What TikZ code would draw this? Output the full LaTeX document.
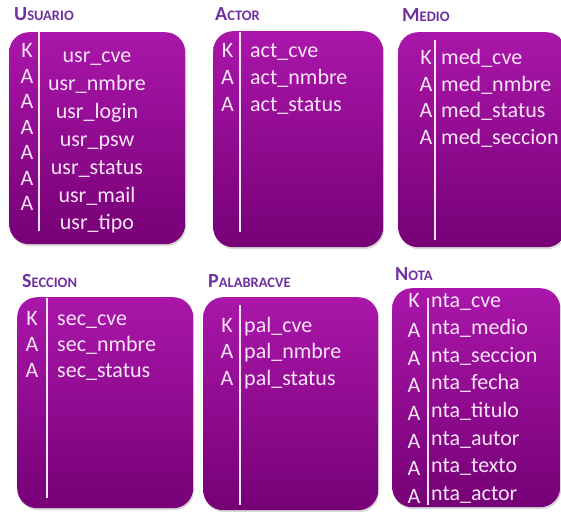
\documentclass[tikz,border=0pt]{standalone}
\usepackage{fontspec}
\setmainfont{Carlito}
\usetikzlibrary{positioning, shadows}

\definecolor{boxtop}{RGB}{170,22,170}
\definecolor{boxbot}{RGB}{118,0,118}
\definecolor{titlecol}{RGB}{112,48,160}
\definecolor{textcol}{RGB}{248,228,248}

% fake small caps for the entity titles
\newcommand{\sctitle}[2]{{\fontsize{20}{20}\selectfont #1}{\fontsize{14.5}{14.5}\selectfont #2}}

\begin{document}
\begin{tikzpicture}[
    x=1pt, y=-1pt,
    entity/.style={draw=none, rounded corners=20pt, top color=boxtop, bottom color=boxbot,
        anchor=north west, inner sep=0pt,
        drop shadow={shadow xshift=1pt, shadow yshift=-2pt, opacity=0.3}},
    title/.style={anchor=base west, inner sep=0pt, text=titlecol, font=\bfseries},
    sep/.style={draw=textcol, line width=1.3pt},
    keyl/.style={anchor=base, inner sep=0pt, text=textcol, font=\fontsize{22}{22}\selectfont},
    attr/.style={anchor=base west, inner sep=0pt, text=textcol, font=\fontsize{22}{22}\selectfont}
]
\useasboundingbox (0,0) rectangle (561,513);

% Entities
\node[entity, minimum width=176pt, minimum height=212pt] (usuario) at (9,32) {};
\node[entity, minimum width=170pt, minimum height=216pt] (actor) at (213,31) {};
\node[entity, minimum width=168pt, minimum height=215pt] (medio) at (398,32) {};
\node[entity, minimum width=176pt, minimum height=211pt] (seccion) at (17,297) {};
\node[entity, minimum width=175pt, minimum height=213pt] (palabra) at (203,297) {};
\node[entity, minimum width=168pt, minimum height=219pt] (nota) at (392,288) {};

% Titles
\node[title] (t-usuario) at (14,21) {\sctitle{U}{SUARIO}};
\node[title] (t-actor) at (215,21) {\sctitle{A}{CTOR}};
\node[title] (t-medio) at (402,22) {\sctitle{M}{EDIO}};
\node[title] (t-seccion) at (22,287) {\sctitle{S}{ECCION}};
\node[title] (t-palabra) at (208,287) {\sctitle{P}{ALABRACVE}};
\node[title] (t-nota) at (395,280) {\sctitle{N}{OTA}};

% Separators
\draw[sep] (39,31) -- (39,231);
\draw[sep] (240,32) -- (240,232);
\draw[sep] (435,40) -- (435,240);
\draw[sep] (47,298) -- (47,498);
\draw[sep] (240,305) -- (240,505);
\draw[sep] (428,298) -- (428,505);

% Usuario
\foreach \k [count=\i from 0] in {K,A,A,A,A,A,A}
    \node[keyl] at (27, 58+25.4*\i) {\k};
\foreach \f [count=\i from 0] in {usr\_cve, usr\_nmbre, usr\_login, usr\_psw, usr\_status, usr\_mail, usr\_tipo}
    \node[attr, anchor=base] at (97, 63+27.8*\i) {\f};

% Actor
\foreach \k/\f [count=\i from 0] in {K/act\_cve, A/act\_nmbre, A/act\_status} {
    \node[keyl] at (227.5, 58+27*\i) {\k};
    \node[attr] at (250, 58+27*\i) {\f};
}

% Medio
\foreach \k/\f [count=\i from 0] in {K/med\_cve, A/med\_nmbre, A/med\_status, A/med\_seccion} {
    \node[keyl] at (426, 65+26.5*\i) {\k};
    \node[attr] at (441, 65+26.5*\i) {\f};
}

% Seccion
\foreach \k/\f [count=\i from 0] in {K/sec\_cve, A/sec\_nmbre, A/sec\_status} {
    \node[keyl] at (32, 325+26*\i) {\k};
    \node[attr] at (57, 325+26*\i) {\f};
}

% Palabracve
\foreach \k/\f [count=\i from 0] in {K/pal\_cve, A/pal\_nmbre, A/pal\_status} {
    \node[keyl] at (227, 332+26.5*\i) {\k};
    \node[attr] at (244, 332+26.5*\i) {\f};
}

% Nota
\node[keyl] at (414, 307) {K};
\foreach \i in {1,...,7}
    \node[keyl] at (414, 310+27.6*\i) {A};
\foreach \f [count=\i from 0] in {nta\_cve, nta\_medio, nta\_seccion, nta\_fecha, nta\_titulo, nta\_autor, nta\_texto, nta\_actor}
    \node[attr] at (431, 307+27.6*\i) {\f};

\end{tikzpicture}
\end{document}
